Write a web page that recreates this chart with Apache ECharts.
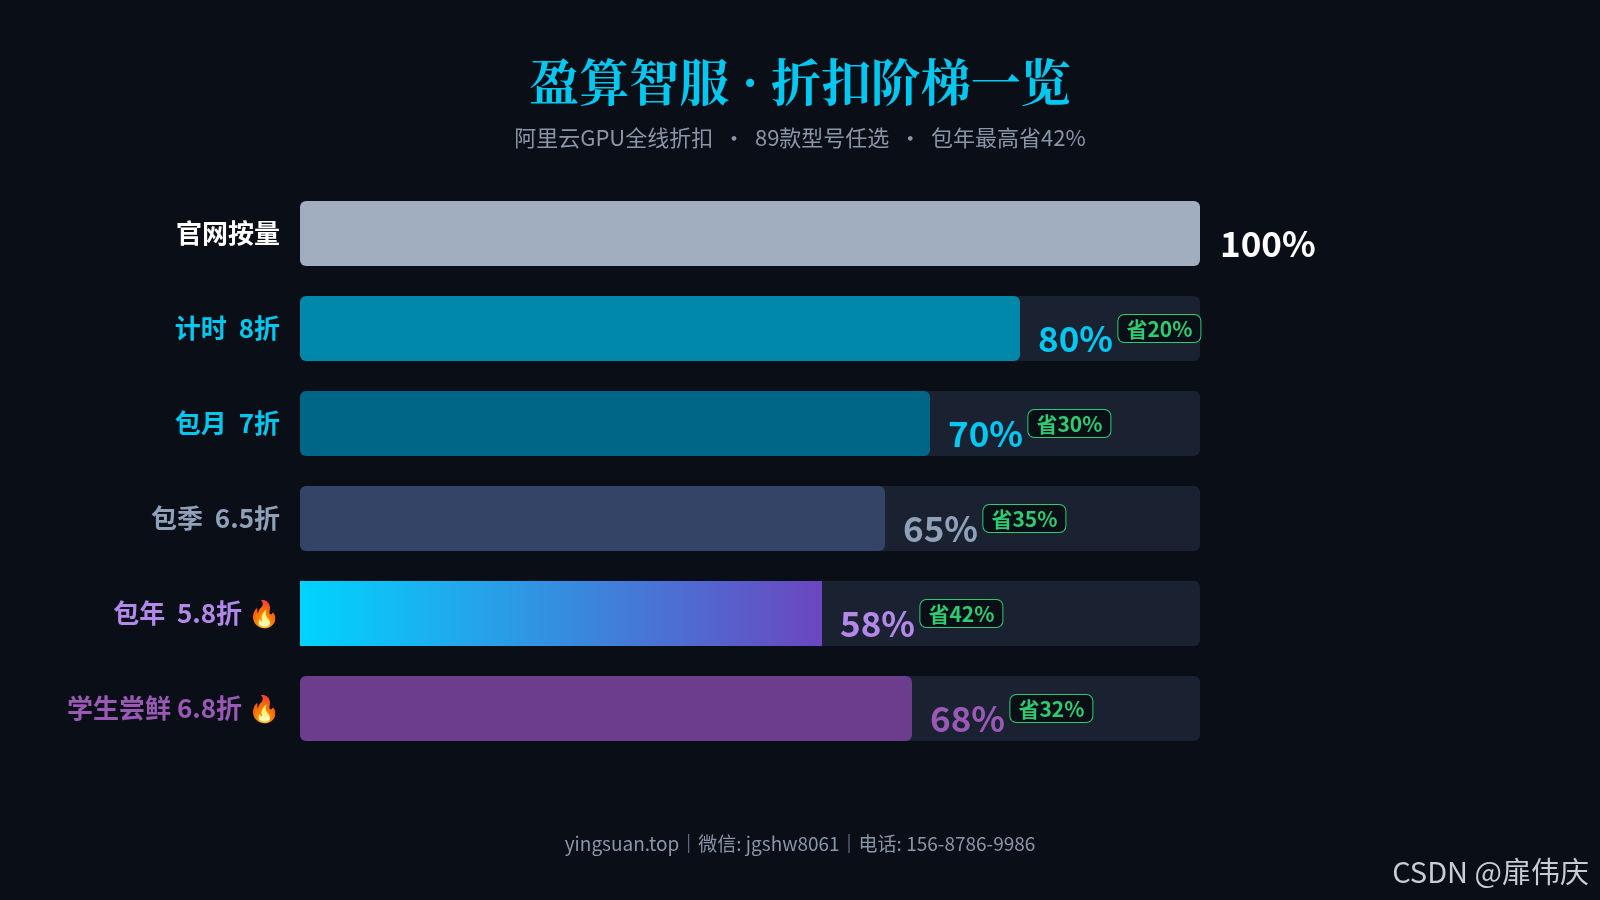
<!DOCTYPE html>
<html><head><meta charset="utf-8">
<script src="https://cdn.jsdelivr.net/npm/echarts@6/dist/echarts.min.js"></script>
<style>html,body{margin:0;background:#0a0e17}#c{width:1600px;height:900px}</style>
</head><body><div id="c"></div>
<script>
const categories = ['官网按量', '计时  8折', '包月  7折', '包季  6.5折', '包年  5.8折 🔥', '学生尝鲜 6.8折 🔥'];
const values = [100, 80, 70, 65, 58, 68];
const savings = [null, '省20%', '省30%', '省35%', '省42%', '省32%'];
const labelColors = ['#ffffff', '#00c8f0', '#00c8f0', '#8fa0b8', '#b388eb', '#9b59b6'];
const barColors = ['#a0aec0', '#0088aa', '#006688', '#334466',
  new echarts.graphic.LinearGradient(0, 0, 1, 0, [{ offset: 0, color: '#00d4ff' }, { offset: 1, color: '#6b46c1' }]),
  '#6b3d8c'];

const chart = echarts.init(document.getElementById('c'));
const font = '"Noto Sans CJK SC", "Noto Sans", sans-serif';
chart.setOption({
  backgroundColor: '#0a0e17',
  textStyle: { fontFamily: font },
  title: [
    { text: '盈算智服 · 折扣阶梯一览', left: 'center', top: 52,
      textStyle: { color: '#00c8f0', fontSize: 50, fontWeight: 'bold', fontFamily: '"Noto Serif CJK SC", serif' } },
    { text: '阿里云GPU全线折扣  ·  89款型号任选  ·  包年最高省42%', left: 'center', top: 122,
      textStyle: { color: '#8a96a8', fontSize: 22, fontWeight: 'normal', fontFamily: font } },
    { text: 'yingsuan.top｜微信: jgshw8061｜电话: 156-8786-9986', left: 'center', top: 829,
      textStyle: { color: '#8a96a8', fontSize: 19, fontWeight: 'normal', fontFamily: font } },
    { text: 'CSDN @扉伟庆', right: 6, top: 852,
      textStyle: { color: '#c8ccd4', fontSize: 29, fontWeight: 'normal', fontFamily: font } }
  ],
  grid: { left: 300, width: 900, top: 186, height: 570 },
  xAxis: { type: 'value', min: 0, max: 100, show: false },
  yAxis: {
    type: 'category', inverse: true, data: categories,
    axisLine: { show: false }, axisTick: { show: false },
    axisLabel: {
      margin: 20, fontSize: 26, fontWeight: 'bold',
      color: (v, i) => labelColors[i]
    }
  },
  series: [{
    type: 'bar', barWidth: 65,
    showBackground: true,
    backgroundStyle: { color: '#1a2232', borderRadius: 6 },
    data: values.map((v, i) => ({
      value: v,
      itemStyle: { color: barColors[i], borderRadius: i === 4 ? 0 : 6 },
      label: {
        show: true, position: 'right', distance: i === 0 ? 20 : 18,
        formatter: () => savings[i] ? '{v|' + v + '%}  {b|' + savings[i] + '}' : '{v|' + v + '%}',
        rich: {
          v: { fontSize: 35, fontWeight: 'bold', color: labelColors[i], padding: [20, 0, 0, 0], fontFamily: font },
          b: { fontSize: 21, fontWeight: 'bold', color: '#2ecc71', backgroundColor: '#0a0e17',
               borderColor: '#2ecc71', borderWidth: 1, borderRadius: 6, padding: [4, 8, 2, 8],
               fontFamily: font }
        }
      }
    }))
  }]
});
</script></body></html>
